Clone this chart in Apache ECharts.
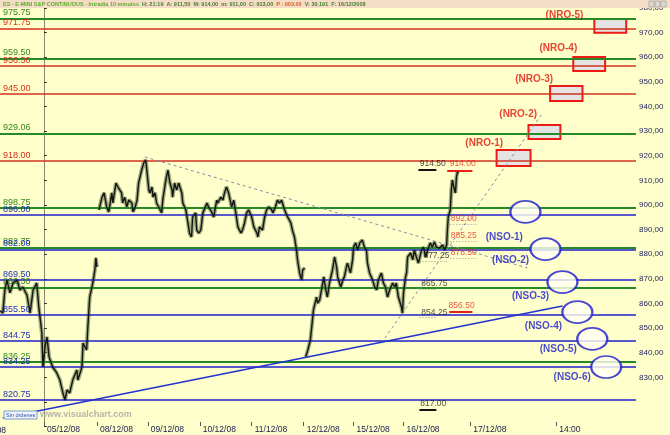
<!DOCTYPE html>
<html><head><meta charset="utf-8">
<script src="https://cdn.jsdelivr.net/npm/echarts@6/dist/echarts.min.js"></script>
<style>html,body{margin:0;padding:0;background:#ffffcc}#c{width:670px;height:435px}</style>
</head><body><div id="c"></div><script>
// ---------- DATA (x = trading-day index, y = price) ----------
const tickDays   = [0, 1.03, 2.02, 3.03, 4.04, 5.05, 6.02, 6.99, 8.29, 9.96];
const tickLabels = ['05/12/08','08/12/08','09/12/08','10/12/08','11/12/08','12/12/08','15/12/08','16/12/08','17/12/08','14:00'];
const yTickValues = [830, 840, 850, 860, 870, 880, 890, 900, 910, 920, 930, 940, 950, 960, 970, 980];

const levelValues = [975.75, 971.75, 959.50, 956.50, 945.00, 929.06, 918.00, 898.75, 896.00, 882.75, 882.00, 869.50, 866.50, 855.50, 844.75, 836.25, 834.25, 820.75];
const levelKinds  = ['major','resistance','major','resistance','resistance','major','resistance','major','support','major','support','support','major','support','support','major','support','support'];

const priceSession1 = [[-0.85,857.0],[-0.80,856.1],[-0.76,865.5],[-0.72,869.5],[-0.66,864.3],[-0.60,868.3],[-0.52,869.5],[-0.47,865.5],[-0.41,866.7],[-0.33,863.4],[-0.27,856.1],[-0.21,865.5],[-0.14,868.3],[-0.10,858.6],[-0.04,848.0],[-0.02,834.2],[0.02,842.3],[0.06,846.4],[0.10,838.3],[0.17,834.2],[0.25,831.8],[0.31,828.9],[0.37,823.6],[0.41,820.8],[0.45,824.9],[0.50,823.6],[0.56,828.9],[0.64,833.0],[0.66,828.9],[0.74,834.2],[0.76,843.9],[0.83,841.1],[0.85,849.2],[0.89,862.6],[0.95,868.3],[0.99,873.6],[1.01,878.5],[1.03,874.8]];
const priceSession2 = [[1.07,898.0],[1.13,903.2],[1.17,904.9],[1.22,899.2],[1.26,897.2],[1.32,904.9],[1.34,900.8],[1.40,908.9],[1.44,907.3],[1.51,904.9],[1.53,900.8],[1.57,903.2],[1.61,899.2],[1.65,902.0],[1.71,900.8],[1.73,897.2],[1.77,898.8],[1.81,902.0],[1.84,908.9],[1.90,914.2],[1.94,917.1],[1.98,918.3],[2.00,914.2],[2.04,906.1],[2.06,904.9],[2.10,907.3],[2.12,903.2],[2.16,904.9],[2.19,900.8],[2.23,899.2],[2.29,896.8],[2.31,902.0],[2.37,910.2],[2.41,914.2],[2.45,908.9],[2.49,906.1],[2.50,903.2],[2.54,908.9],[2.58,906.1],[2.62,908.9],[2.68,904.9],[2.70,900.8],[2.76,898.0],[2.80,892.7],[2.83,888.6],[2.87,887.0],[2.89,895.1],[2.95,896.8],[2.97,889.8],[3.01,888.6],[3.05,889.8],[3.09,896.8],[3.17,900.8],[3.20,899.2],[3.26,897.2],[3.30,895.1],[3.36,902.0],[3.38,900.8],[3.44,903.2],[3.48,902.0],[3.51,904.9],[3.55,907.3],[3.59,904.9],[3.65,899.2],[3.69,902.0],[3.73,896.8],[3.77,891.1],[3.83,888.6],[3.86,889.8],[3.90,892.7],[3.94,896.8],[3.98,898.0],[4.04,895.1],[4.08,891.1],[4.14,888.6],[4.16,887.0],[4.19,891.1],[4.25,889.8],[4.29,895.1],[4.33,898.0],[4.37,899.2],[4.43,898.0],[4.45,896.8],[4.50,899.2],[4.54,902.0],[4.58,900.8],[4.62,902.0],[4.66,899.2],[4.70,896.8],[4.74,895.1],[4.80,892.7],[4.83,889.8],[4.87,887.0],[4.91,881.7],[4.93,877.7],[4.97,872.4],[5.01,869.5],[5.03,873.6],[5.07,874.4]];
const priceSession3 = [[5.09,838.3],[5.13,841.1],[5.18,845.2],[5.22,853.3],[5.24,857.4],[5.30,862.6],[5.32,860.2],[5.36,861.4],[5.42,868.3],[5.44,870.8],[5.48,865.5],[5.51,862.6],[5.55,868.3],[5.61,873.6],[5.65,878.9],[5.69,874.8],[5.71,870.8],[5.77,866.7],[5.81,869.5],[5.84,870.8],[5.88,874.8],[5.90,876.4],[5.96,872.4],[6.00,877.7],[6.02,882.9],[6.06,884.6],[6.10,881.7],[6.14,884.6],[6.19,885.8],[6.23,882.9],[6.27,881.7],[6.29,876.4],[6.33,872.4],[6.39,869.5],[6.43,866.7],[6.47,865.5],[6.50,869.5],[6.56,872.4],[6.60,868.3],[6.64,866.7],[6.68,862.6],[6.72,865.5],[6.78,868.3],[6.82,866.7],[6.85,868.3],[6.89,862.6],[6.95,858.6],[6.97,856.1],[6.99,864.3],[7.03,870.8],[7.05,872.4],[7.07,878.9],[7.13,880.5],[7.17,877.7],[7.20,881.7],[7.24,878.9],[7.28,876.4],[7.34,881.7],[7.38,882.9],[7.42,878.9],[7.46,881.7],[7.51,884.6],[7.55,882.9],[7.59,885.0],[7.63,882.9],[7.69,882.5],[7.75,883.8],[7.79,881.7],[7.83,883.8],[7.84,888.6],[7.86,895.1],[7.90,898.0],[7.92,906.1],[7.94,910.2],[7.98,906.1],[8.00,904.9],[8.02,911.4],[8.04,913.4],[8.06,913.0]];

const trendStart = [[1.96, 919.5], [6.56, 843.9], [-0.80, 813.5]];
const trendEnd   = [[9.40, 874.4], [9.67, 936.6], [10.08, 859.0]];
const trendKinds = ['dotted', 'dotted', 'solid'];

const nroNames = ['(NRO-1)','(NRO-2)','(NRO-3)','(NRO-4)','(NRO-5)'];
const nroBoxFrom = [[8.80, 922.3], [9.42, 932.5], [9.84, 948.3], [10.29, 960.1], [10.70, 975.5]];
const nroBoxTo   = [[9.46, 915.8], [10.04, 926.8], [10.47, 942.2], [10.91, 954.4], [11.32, 969.9]];
const nroLabelAt = [[8.56, 925.2], [9.22, 937.0], [9.53, 951.2], [10.00, 963.8], [10.12, 977.2]];

const nsoNames = ['(NSO-1)','(NSO-2)','(NSO-3)','(NSO-4)','(NSO-5)','(NSO-6)'];
const nsoCenters = [[9.36, 897.2], [9.75, 882.1], [10.08, 868.7], [10.37, 856.5], [10.66, 845.6], [10.93, 834.2]];
const nsoLabelAt = [[8.95, 887.0], [9.07, 877.7], [9.46, 863.0], [9.71, 850.9], [10.00, 841.5], [10.27, 830.1]];

const markTexts  = ['914.50','914.00','892.00','885.25','878.50','877.25','865.75','854.25','856.50','817.00'];
const markAt     = [[7.56,916.7],[8.14,916.7],[8.16,894.3],[8.16,887.4],[8.16,880.5],[7.63,879.3],[7.59,867.9],[7.59,856.3],[8.12,859.0],[7.57,819.2]];
const markKinds  = ['swing','target','target','target','target','swing','swing','swing','target','swing'];

const underlinePrice = [914.50, 914.00, 892.00, 885.25, 878.50, 877.25, 865.75, 854.25, 856.50, 817.00];
const underlineFrom  = [7.28, 7.84, 7.90, 7.90, 7.90, 7.30, 7.30, 7.30, 7.88, 7.30];
const underlineTo    = [7.63, 8.33, 8.43, 8.43, 8.43, 7.84, 7.63, 7.63, 8.33, 7.63];
const underlineKinds = ['swing','target','dotted','dotted','dotted','dotted','dotted','dotted','target','swing'];

// ---------- CHART ----------
const FONT = 'Arial, "Liberation Sans", sans-serif';
const lineColor  = {major:'#268a26', resistance:'#d2321e', support:'#2020cc'};
const labelColor = {major:'#35861f', resistance:'#d2321e', support:'#2030bb'};
const markColor  = {swing:'#1a1a1a', target:'#e0301e'};
const ulStyle = {
  swing:{color:'#111', width:2, type:'solid'},
  target:{color:'#e8201a', width:2, type:'solid'},
  dotted:{color:'#9a9a8a', width:1, type:[1,2]}
};

const chart = echarts.init(document.getElementById('c'), null, {renderer:'canvas'});

const levelLines = levelValues.map((v, i) => ({
  yAxis: v,
  lineStyle: {color: lineColor[levelKinds[i]], width: levelKinds[i] === 'major' ? 1.8 : 1.5, type: 'solid'},
  label: {show: true, position: 'insideStartTop', formatter: v.toFixed(2),
          color: labelColor[levelKinds[i]], fontSize: 9, fontFamily: FONT, distance: [3, 1]}
}));

const trendLines = trendStart.map((s, i) => [
  {coord: s, lineStyle: trendKinds[i] === 'solid'
     ? {color:'#2233cc', width:1.6, type:'solid'}
     : {color:'#8a8aa8', width:1, type:[3,3]}},
  {coord: trendEnd[i]}
]);

const underlines = underlinePrice.map((p, i) => [
  {coord: [underlineFrom[i], p], lineStyle: ulStyle[underlineKinds[i]]},
  {coord: [underlineTo[i], p]}
]);

const boxes = nroBoxFrom.map((f, i) => [{coord: f}, {coord: nroBoxTo[i]}]);

function xLabel(v) {
  for (let i = 0; i < tickDays.length; i++) if (Math.abs(tickDays[i] - v) < 1e-6) return tickLabels[i];
  return '';
}

const priceSeries = [priceSession1, priceSession2, priceSession3].map(d => ({
  type:'line', data:d, showSymbol:false, symbol:'none', z:5, silent:true,
  lineStyle: {color:'#141414', width:1.4}
}));
const priceHalo = [priceSession1, priceSession2, priceSession3].map(d => ({
  type:'line', data:d, showSymbol:false, symbol:'none', z:4, silent:true,
  lineStyle: {color:'#3f5a2c', width:4, opacity:0.5}
}));

chart.setOption({
  animation:false,
  backgroundColor:'#ffffcc',
  grid:{left:0, right:34, top:8, bottom:8.4},
  xAxis:{
    type:'value', min:-0.854, max:11.51, offset:-4.6,
    axisLine:{show:false}, splitLine:{show:false},
    axisTick:{show:true, customValues: tickDays, length:4, lineStyle:{color:'#555'}},
    axisLabel:{show:true, customValues: tickDays, formatter: xLabel, align:'left',
               padding:[0,0,0,3], margin:3, fontSize:8.5, color:'#1c1c4c', fontFamily:FONT, hideOverlap:false}
  },
  yAxis:{
    type:'value', position:'right', min:810, max:980, interval:10,
    splitLine:{show:false},
    axisLine:{show:true, lineStyle:{color:'#8a8a6a', width:1}},
    axisTick:{show:true, length:3, lineStyle:{color:'#333'}},
    axisLabel:{fontSize:8, color:'#1c1c5c', margin:3, fontFamily:FONT,
               formatter: v => yTickValues.indexOf(v) >= 0 ? v.toFixed(2).replace('.', ',') : ''}
  },
  series:[
    {type:'line', data:[], silent:true, z:1,
     markLine:{silent:true, symbol:['none','none'], animation:false, data:levelLines}},
    {type:'line', data:[], silent:true, z:2,
     markLine:{silent:true, symbol:['none','none'], animation:false, label:{show:false}, data:trendLines}},
    ...priceHalo,
    ...priceSeries,
    {type:'line', data:[], silent:true, z:6,
     markLine:{silent:true, symbol:['none','none'], animation:false, label:{show:false}, data:underlines}},
    {type:'line', data:[], silent:true, z:6,
     markArea:{silent:true, itemStyle:{color:'#e4e4e4', borderColor:'#ee1a14', borderWidth:2}, data:boxes}},
    {type:'scatter', silent:true, z:7, symbol:'circle', symbolSize:[30,22],
     itemStyle:{color:'#fffff2', borderColor:'#1a1acc', borderWidth:2},
     data: nsoCenters},
    {type:'scatter', silent:true, z:8, symbolSize:0,
     data: nroLabelAt.map((p, i) => ({value:p, label:{formatter:nroNames[i], color:'#e0140e'}}))
       .concat(nsoLabelAt.map((p, i) => ({value:p, label:{formatter:nsoNames[i], color:'#1a1acc'}}))),
     label:{show:true, position:'inside', fontSize:10, fontWeight:'bold', fontFamily:FONT}},
    {type:'scatter', silent:true, z:8, symbolSize:0,
     data: markAt.map((p, i) => ({value:p, label:{formatter:markTexts[i], color:markColor[markKinds[i]]}})),
     label:{show:true, position:'inside', fontSize:8.5, fontFamily:FONT}}
  ],
  graphic:[
    {type:'rect', shape:{x:0, y:0, width:670, height:8}, style:{fill:'#f4dcc6'}, z:100, silent:true},
    {type:'text', x:3, y:1, z:101, silent:true, style:{
      text:'{a|ES - E-MINI S&P CONTINUOUS - Intradia 10 minutos}  {b|H: 21:19  A: 911,50  M: 914,00  m: 911,00  C: 913,00}  {c|P : 903,00}  {b|V: 30.191  F: 16/12/2008}',
      verticalAlign:'top', font:'bold 5.5px Arial',
      rich:{a:{fill:'#5cae2c', font:'bold 5.5px Arial'}, b:{fill:'#3f7f2a', font:'bold 5.5px Arial'}, c:{fill:'#e06020', font:'bold 5.5px Arial'}}
    }},
    {type:'rect', shape:{x:649, y:1, width:5, height:6}, style:{fill:'#d8d8d8', stroke:'#888', lineWidth:0.5}, z:101},
    {type:'rect', shape:{x:655, y:1, width:5, height:6}, style:{fill:'#d8d8d8', stroke:'#888', lineWidth:0.5}, z:101},
    {type:'rect', shape:{x:661, y:1, width:5, height:6}, style:{fill:'#d8d8d8', stroke:'#888', lineWidth:0.5}, z:101},
    {type:'rect', shape:{x:4, y:411, width:33, height:8}, style:{fill:'#eef4ff', stroke:'#7a9ad0', lineWidth:1}, z:101},
    {type:'text', x:6, y:412, z:102, style:{text:'Sin órdenes', fill:'#3050a0', font:'5.5px Arial', verticalAlign:'top'}},
    {type:'text', x:40, y:410, z:102, style:{text:'www.visualchart.com', fill:'#b4b4aa', font:'bold 9px Arial', verticalAlign:'top'}},
    {type:'text', x:-27, y:426, z:102, style:{text:'04/12/08', fill:'#1c1c4c', font:'8.5px Arial', verticalAlign:'top'}}
  ]
});
</script></body></html>
